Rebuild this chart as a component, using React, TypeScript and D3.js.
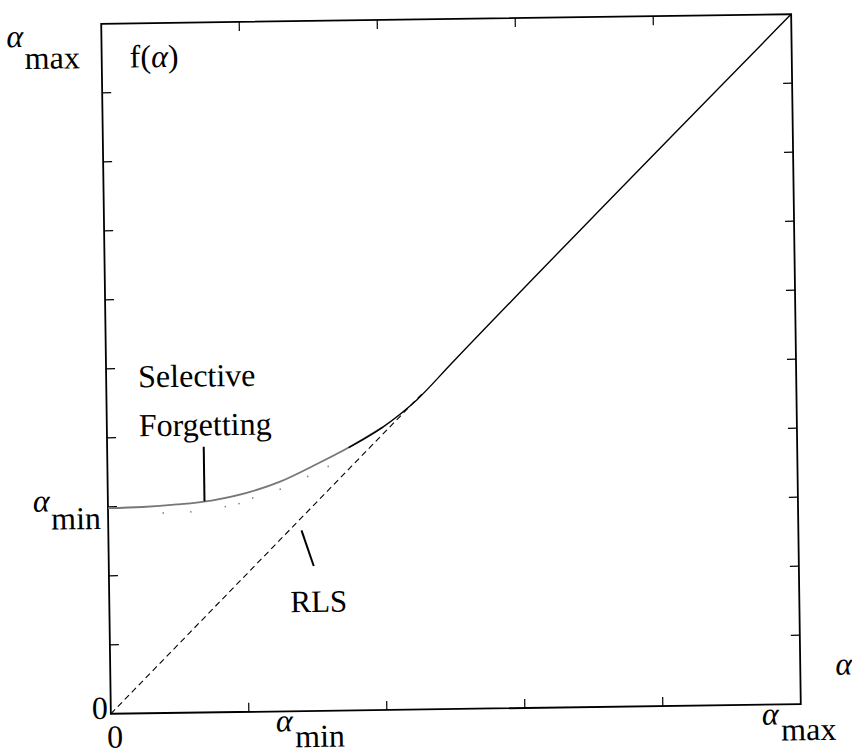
import * as d3 from "d3";

// selective forgetting curve f(alpha), in units of alpha_max
const sfX = [0, 0.05, 0.1, 0.15, 0.2, 0.25, 0.3, 0.35, 0.4, 0.45, 0.5, 1.0];
const sfY = [0.298, 0.299, 0.302, 0.307, 0.317, 0.333, 0.356, 0.381, 0.41, 0.449, 0.5, 1.0];

// RLS: f(alpha) = alpha (dashed part)
const rlsX = [0, 0.46];
const rlsY = [0, 0.46];

// faint dotted trace just under the curve
const dotX = [0.08, 0.12, 0.17, 0.19, 0.21, 0.25, 0.29, 0.32];
const dotY = [0.29, 0.291, 0.298, 0.302, 0.31, 0.322, 0.34, 0.354];

const yTicks = [0, 0.1, 0.2, 0.3, 0.4, 0.5, 0.6, 0.7, 0.8, 0.9, 1.0];
const xTicks = [0, 0.2, 0.4, 0.6, 0.8, 1.0];

const W = 852;
const H = 756;
const left = 106;
const top = 19;
const size = 690;

const FONT = "'Liberation Serif', 'DejaVu Serif', 'Times New Roman', serif";

function T(props: any) {
  return <text fontFamily={FONT} fontSize={32} {...props} />;
}

export default function App() {
  const x = d3.scaleLinear().domain([0, 1]).range([left, left + size]);
  const y = d3.scaleLinear().domain([0, 1]).range([top + size, top]);

  const line = d3
    .line<number>()
    .x((d, i) => x(sfX[i]))
    .y((d) => y(d))
    .curve(d3.curveMonotoneX);

  const greyPart = sfY.slice(0, 9);
  const blackLine = d3
    .line<number>()
    .x((d, i) => x(sfX[i + 7]))
    .y((d) => y(d))
    .curve(d3.curveMonotoneX);

  const tl = 9;

  return (
    <svg width={W} height={H} style={{ position: "absolute", left: 0, top: 0, background: "#fff" }}>
      <g transform={`rotate(-0.8, ${left + size / 2}, ${top + size / 2})`}>
        {/* frame */}
        <rect x={x(0)} y={y(1)} width={size} height={size} fill="none" stroke="#000" strokeWidth={1.8} />

        {/* left & right ticks */}
        {yTicks.slice(1, -1).map((t) => (
          <g key={"y" + t}>
            <line x1={x(0)} x2={x(0) + tl} y1={y(t)} y2={y(t)} stroke="#000" strokeWidth={1.2} />
            <line x1={x(1)} x2={x(1) - tl} y1={y(t)} y2={y(t)} stroke="#000" strokeWidth={1.2} />
          </g>
        ))}
        {/* bottom & top ticks */}
        {xTicks.slice(1, -1).map((t) => (
          <g key={"x" + t}>
            <line x1={x(t)} x2={x(t)} y1={y(0)} y2={y(0) - tl} stroke="#000" strokeWidth={1.2} />
            <line x1={x(t)} x2={x(t)} y1={y(1)} y2={y(1) + tl} stroke="#000" strokeWidth={1.2} />
          </g>
        ))}

        {/* RLS dashed */}
        <line
          x1={x(rlsX[0])}
          y1={y(rlsY[0])}
          x2={x(rlsX[1])}
          y2={y(rlsY[1])}
          stroke="#000"
          strokeWidth={1.1}
          strokeDasharray="6,4"
        />

        {/* faint dots */}
        {dotX.map((d, i) => (
          <circle key={"d" + i} cx={x(d)} cy={y(dotY[i])} r={0.9} fill="#888" />
        ))}

        {/* selective forgetting */}
        <path d={line(greyPart) || ""} fill="none" stroke="#777" strokeWidth={1.8} />
        <path d={blackLine(sfY.slice(7)) || ""} fill="none" stroke="#000" strokeWidth={1.4} />

        {/* pointers */}
        <line x1={x(0.14)} x2={x(0.14)} y1={y(0.306)} y2={y(0.385)} stroke="#000" strokeWidth={2} />
        <line x1={x(0.28)} x2={x(0.297)} y1={y(0.262)} y2={y(0.21)} stroke="#000" strokeWidth={2} />

        {/* labels inside */}
        <T x={134} y={63}>
          f(<tspan fontStyle="italic">α</tspan>)
        </T>
        <T x={138} y={383}>Selective</T>
        <T x={138} y={432}>Forgetting</T>
        <T x={287} y={610} fontSize={31}>RLS</T>

        {/* y-axis labels */}
        <T x={11} y={41} fontStyle="italic">α</T>
        <T x={29} y={63}>max</T>
        <T x={31} y={506} fontStyle="italic">α</T>
        <T x={49} y={524}>min</T>
        <T x={87} y={714}>0</T>

        {/* x-axis labels */}
        <T x={102} y={743}>0</T>
        <T x={271} y={729} fontStyle="italic">α</T>
        <T x={290} y={745}>min</T>
        <T x={757} y={729} fontStyle="italic">α</T>
        <T x={776} y={745}>max</T>
        <T x={831} y={680} fontStyle="italic">α</T>
      </g>
    </svg>
  );
}
